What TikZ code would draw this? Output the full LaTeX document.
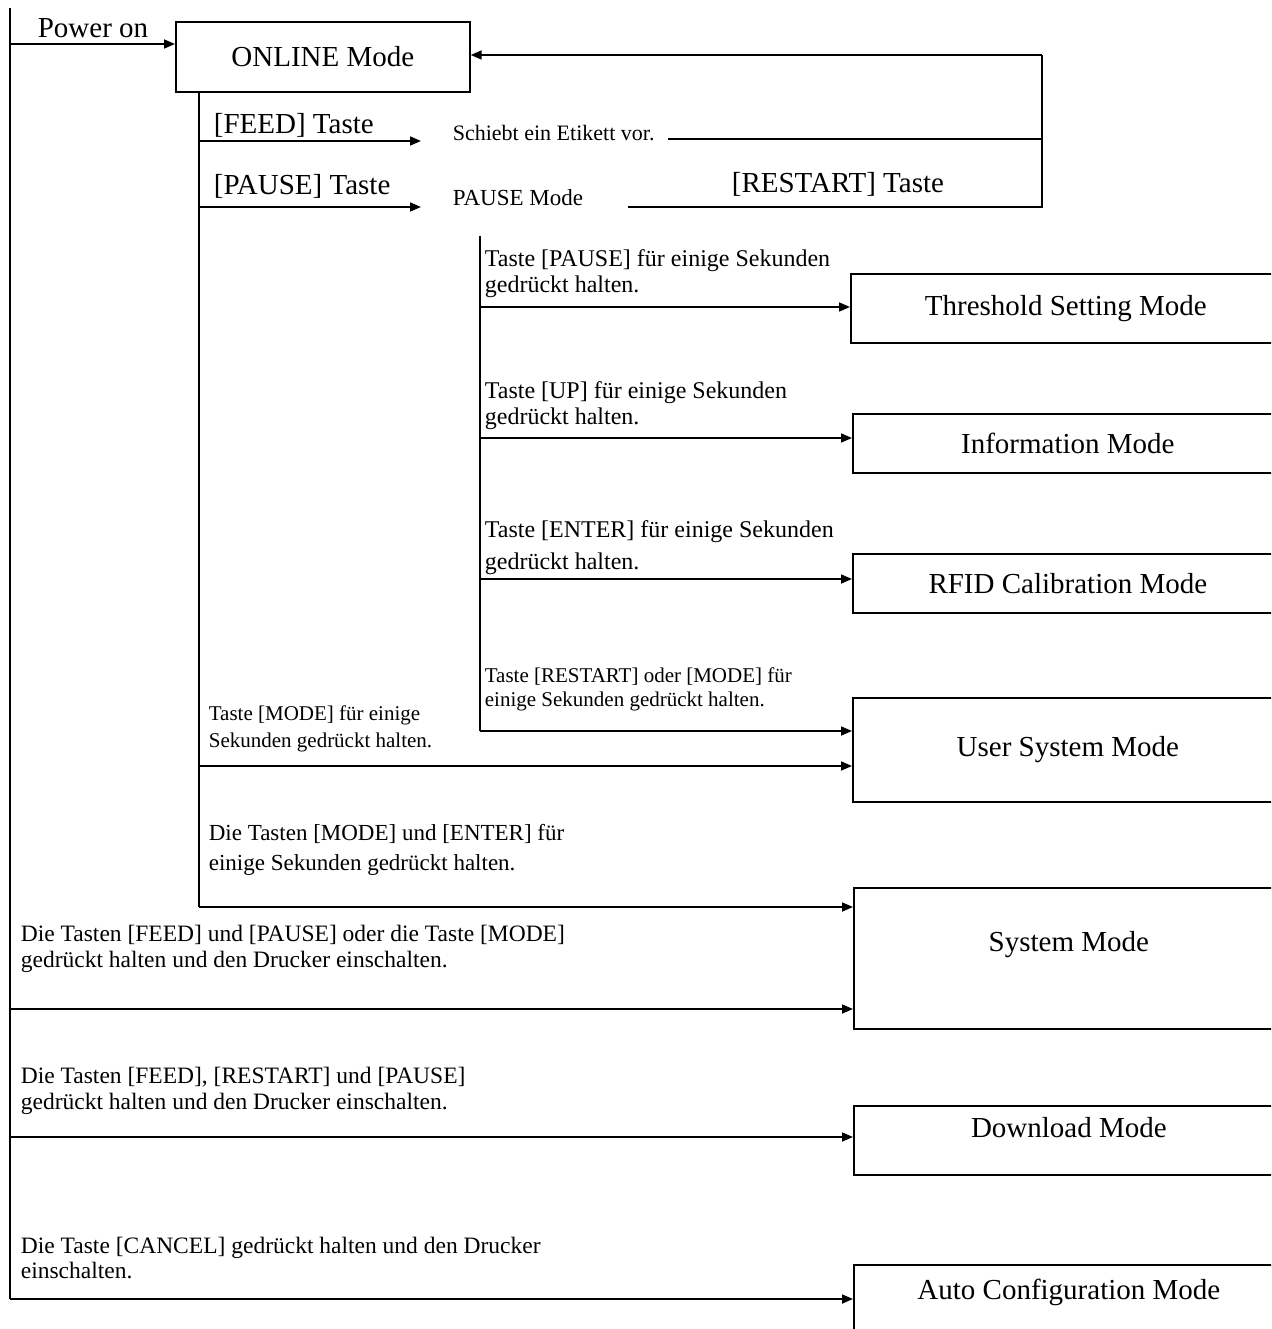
\documentclass[tikz,border=0pt]{standalone}
\usepackage{fontspec}
\setmainfont{Liberation Serif}
\usetikzlibrary{arrows.meta,positioning}

\begin{document}
\begin{tikzpicture}[
  x=1pt, y=-1pt,
  line width=1.7pt,
  modebox/.style={rectangle, draw=black, anchor=north west, minimum width=430pt, align=center, inner sep=0pt, font=\fontsize{29}{33}\selectfont},
  bigtext/.style={anchor=base west, inner sep=0pt, font=\fontsize{29}{33}\selectfont},
  keytext/.style={anchor=base west, inner sep=0pt, align=left, font=\fontsize{24}{26}\selectfont},
  smalltext/.style={anchor=base west, inner sep=0pt, align=left, font=\fontsize{21}{24}\selectfont},
  arrow/.style={-{Triangle[length=11pt,width=9pt]}}
]
\useasboundingbox (0,0) rectangle (1271,1329);
\clip (0,0) rectangle (1271,1329);

% mode boxes
\node[modebox, minimum width=294pt, minimum height=70pt] (online) at (175,21) {ONLINE Mode};
\node[modebox, minimum height=69pt] (thresh) at (850,273) {Threshold Setting Mode};
\node[modebox, minimum height=59pt] (info) at (852,413) {Information Mode};
\node[modebox, minimum height=59pt] (rfid) at (852,553) {RFID Calibration Mode};
\node[modebox, minimum height=104pt] (usersys) at (852,697) {User System Mode};
\node[modebox, minimum height=141pt, text depth=34pt] (system) at (853,887) {System Mode};
\node[modebox, minimum height=69pt, text depth=26pt] (download) at (853,1105) {Download Mode};
\node[modebox, minimum height=72pt, text depth=24pt] (autocfg) at (853,1264) {Auto Configuration Mode};

% texts (multi-line ones sit on the baseline of their last line)
\node[bigtext] (poweron) at (37,38) {Power on};
\node[bigtext] (feedkey) at (213,134) {[FEED] Taste};
\node[bigtext] (pausekey) at (213,195) {[PAUSE] Taste};
\node[anchor=base west, inner sep=0pt, font=\fontsize{22}{24}\selectfont] (schiebt) at (452,141) {Schiebt ein Etikett vor.};
\node[anchor=base west, inner sep=0pt, font=\fontsize{23}{25}\selectfont] (pausemode) at (452,206) {PAUSE Mode};
\node[bigtext] (restartkey) at (731,193) {[RESTART] Taste};

\node[keytext] (holdpause) at (484,293) {Taste [PAUSE] für einige Sekunden\\gedrückt halten.};
\node[keytext] (holdup) at (484,424) {Taste [UP] für einige Sekunden\\gedrückt halten.};
\node[keytext] (holdenter) at (484,569) {Taste [ENTER] für einige Sekunden\\[6pt]gedrückt halten.};
\node[smalltext] (holdrestart) at (484,706) {Taste [RESTART] oder [MODE] für\\einige Sekunden gedrückt halten.};
\node[smalltext] (holdmode) at (208,747) {Taste [MODE] für einige\\[3pt]Sekunden gedrückt halten.};
\node[keytext, font=\fontsize{23}{26}\selectfont] (holdmodeenter) at (208,870) {Die Tasten [MODE] und [ENTER] für\\[4pt]einige Sekunden gedrückt halten.};
\node[keytext, font=\fontsize{23.5}{26}\selectfont] (bootsys) at (20,967) {Die Tasten [FEED] und [PAUSE] oder die Taste [MODE]\\gedrückt halten und den Drucker einschalten.};
\node[keytext, font=\fontsize{23.5}{26}\selectfont] (bootdl) at (20,1109) {Die Tasten [FEED], [RESTART] und [PAUSE]\\gedrückt halten und den Drucker einschalten.};
\node[keytext, font=\fontsize{23.5}{25}\selectfont] (bootcfg) at (20,1278) {Die Taste [CANCEL] gedrückt halten und den Drucker\\einschalten.};

% outer bus (power on)
\coordinate (pwr) at (10,44);
\coordinate (pwr-sys) at (10,1009);
\coordinate (pwr-dl) at (10,1137);
\coordinate (pwr-cfg) at (10,1299);
\draw (10,8) -- (pwr-cfg);
\draw[arrow] (pwr) -- (pwr -| online.west);
\draw[arrow] (pwr-sys) -- (pwr-sys -| system.west);
\draw[arrow] (pwr-dl) -- (pwr-dl -| download.west);
\draw[arrow] (pwr-cfg) -- (pwr-cfg -| autocfg.west);

% online bus
\coordinate (on-top) at (199,91);
\coordinate (on-feed) at (199,141);
\coordinate (on-pause) at (199,207);
\coordinate (on-usr) at (199,766);
\coordinate (on-sys) at (199,907);
\draw (on-top) -- (on-sys);
\draw[arrow] (on-feed) -- (421,141);
\draw[arrow] (on-pause) -- (421,207);
\draw[arrow] (on-usr) -- (on-usr -| usersys.west);
\draw[arrow] (on-sys) -- (on-sys -| system.west);

% pause bus
\coordinate (pa-top) at (480,236);
\coordinate (pa-thr) at (480,307);
\coordinate (pa-info) at (480,438);
\coordinate (pa-rfid) at (480,579);
\coordinate (pa-usr) at (480,731);
\draw (pa-top) -- (pa-usr);
\draw[arrow] (pa-thr) -- (pa-thr -| thresh.west);
\draw[arrow] (pa-info) -- (pa-info -| info.west);
\draw[arrow] (pa-rfid) -- (pa-rfid -| rfid.west);
\draw[arrow] (pa-usr) -- (pa-usr -| usersys.west);

% return to online
\coordinate (ret-top) at (1042,55);
\draw (668,139) -- (1042,139);
\draw (628,207) -- (1042,207) -- (ret-top);
\draw[arrow] (ret-top) -- (ret-top -| online.east);
\end{tikzpicture}
\end{document}
